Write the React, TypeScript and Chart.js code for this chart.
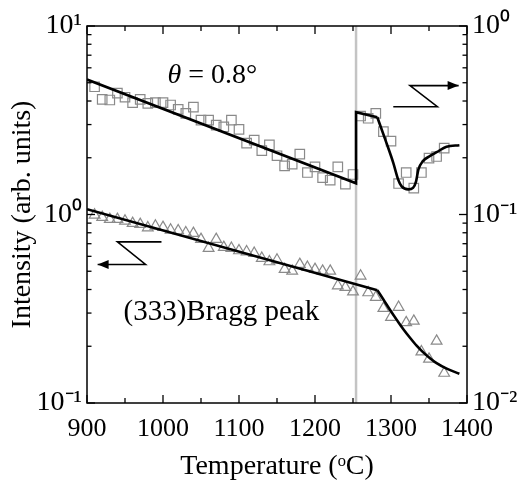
import React, { useEffect, useRef } from 'react';
import { Chart, registerables } from 'chart.js';

Chart.register(...registerables);

const FONT = "'Liberation Serif', 'Times New Roman', serif";

// Measurement temperatures (°C)
const temperatures = [
  910, 920, 930, 940, 950, 960, 970, 980, 990, 1000,
  1010, 1020, 1030, 1040, 1050, 1060, 1070, 1080, 1090, 1100,
  1110, 1120, 1130, 1140, 1150, 1160, 1170, 1180, 1190, 1200,
  1210, 1220, 1230, 1240, 1250, 1260, 1270, 1280, 1290, 1300,
  1310, 1320, 1330, 1340, 1350, 1360, 1370,
];

// θ = 0.8° intensity (squares, right axis)
const squareIntensity = [
  0.476, 0.408, 0.405, 0.440, 0.419, 0.392, 0.408, 0.389, 0.392, 0.392,
  0.381, 0.361, 0.344, 0.371, 0.317, 0.317, 0.298, 0.292, 0.317, 0.283,
  0.239, 0.248, 0.218, 0.234, 0.205, 0.181, 0.185, 0.209, 0.167, 0.179,
  0.157, 0.152, 0.179, 0.145, 0.163, 0.333, 0.324, 0.344, 0.275, 0.245,
  0.146, 0.167, 0.138, 0.167, 0.199, 0.203, 0.225,
];

// (333) Bragg peak intensity (triangles, left axis)
const triangleIntensity = [
  0.994, 0.966, 0.943, 0.943, 0.924, 0.898, 0.887, 0.851, 0.869, 0.855,
  0.828, 0.821, 0.801, 0.795, 0.738, 0.662, 0.738, 0.670, 0.662, 0.643,
  0.635, 0.623, 0.586, 0.562, 0.574, 0.512, 0.501, 0.544, 0.525, 0.512,
  0.501, 0.501, 0.419, 0.411, 0.389, 0.472, 0.385, 0.364, 0.318, 0.285,
  0.322, 0.267, 0.272, 0.187, 0.171, 0.213, 0.144,
];

// Fit curves
const squareFitLineT = [900, 1254, 1254, 1282];
const squareFitLineI = [0.52, 0.1465, 0.349, 0.328];
const squareFitCurveT = [1282, 1294, 1303, 1309.5, 1314, 1322.7, 1329, 1333, 1336, 1342, 1351, 1360, 1373, 1390];
const squareFitCurveI = [0.328, 0.24, 0.188, 0.153, 0.141, 0.136, 0.1385, 0.15, 0.173, 0.192, 0.204, 0.214, 0.229, 0.233];

const triangleFitLineT = [900, 1282];
const triangleFitLineI = [1.066, 0.397];
const triangleFitCurveT = [1282, 1290, 1298.6, 1307.4, 1316, 1325, 1333.7, 1342.4, 1351.3, 1360, 1373.3, 1390];
const triangleFitCurveI = [0.397, 0.354, 0.3126, 0.2769, 0.247, 0.2218, 0.2014, 0.1855, 0.1729, 0.1626, 0.1521, 0.143];

// Vertical marker line
const markerT = [1254, 1254];
const markerI = [0.1, 10];

// Axis ticks
const xTickValues = [900, 1000, 1100, 1200, 1300, 1400];
const xTickLabels = ['900', '1000', '1100', '1200', '1300', '1400'];
const xMinorTickValues = [950, 1050, 1150, 1250, 1350];
const yLeftTickValues = [0.1, 1, 10];
const yLeftTickLabels = ['10\u207B\u00B9', '10\u2070', '10\u00B9'];
const yRightTickValues = [0.01, 0.1, 1];
const yRightTickLabels = ['10\u207B\u00B2', '10\u207B\u00B9', '10\u2070'];
const minorMultipliers = [2, 3, 4, 5, 6, 7, 8, 9];

const xTitle = 'Temperature (\u1D52C)';
const yTitle = 'Intensity (arb. units)';

// Annotations (data coordinates on x / left y)
const thetaLabelPos = [1006, 5.0];
const braggLabelPos = [948, 0.275];
const braggLabel = '(333)Bragg peak';
const leftArrowT = [998, 940, 977, 914];
const leftArrowI = [0.716, 0.716, 0.543, 0.543];
const rightArrowT = [1303, 1361, 1325, 1389];
const rightArrowI = [3.73, 3.73, 4.83, 4.83];

const zip = (xs: number[], ys: number[]) => xs.map((x, i) => ({ x, y: ys[i] }));

function drawArrow(ctx: CanvasRenderingContext2D, pts: { x: number; y: number }[]) {
  ctx.save();
  ctx.strokeStyle = '#000';
  ctx.fillStyle = '#000';
  ctx.lineWidth = 1.6;
  ctx.beginPath();
  ctx.moveTo(pts[0].x, pts[0].y);
  for (let i = 1; i < pts.length; i++) ctx.lineTo(pts[i].x, pts[i].y);
  ctx.stroke();
  const a = pts[pts.length - 2];
  const b = pts[pts.length - 1];
  const ang = Math.atan2(b.y - a.y, b.x - a.x);
  const len = 11;
  const hw = 4.5;
  ctx.beginPath();
  ctx.moveTo(b.x, b.y);
  ctx.lineTo(b.x - len * Math.cos(ang) + hw * Math.sin(ang), b.y - len * Math.sin(ang) - hw * Math.cos(ang));
  ctx.lineTo(b.x - len * Math.cos(ang) - hw * Math.sin(ang), b.y - len * Math.sin(ang) + hw * Math.cos(ang));
  ctx.closePath();
  ctx.fill();
  ctx.restore();
}

const framePlugin = {
  id: 'frameAndAnnotations',
  afterDraw(chart: any) {
    const ctx: CanvasRenderingContext2D = chart.ctx;
    const { left, right, top, bottom } = chart.chartArea;
    const xs = chart.scales.x;
    const ys = chart.scales.y;
    const ys2 = chart.scales.y2;
    ctx.save();
    ctx.strokeStyle = '#000';
    ctx.lineWidth = 1.3;
    const seg = (x1: number, y1: number, x2: number, y2: number) => {
      ctx.beginPath();
      ctx.moveTo(x1, y1);
      ctx.lineTo(x2, y2);
      ctx.stroke();
    };
    xTickValues.forEach((v) => {
      const px = xs.getPixelForValue(v);
      seg(px, bottom, px, bottom - 8);
      seg(px, top, px, top + 8);
    });
    xMinorTickValues.forEach((v) => {
      const px = xs.getPixelForValue(v);
      seg(px, bottom, px, bottom - 5);
      seg(px, top, px, top + 5);
    });
    const logTicks = (scale: any, decades: number[], side: 'l' | 'r') => {
      decades.forEach((d, i) => {
        const py = scale.getPixelForValue(d);
        if (side === 'l') seg(left, py, left + 8, py);
        else seg(right, py, right - 8, py);
        if (i < decades.length - 1) {
          minorMultipliers.forEach((m) => {
            const pm = scale.getPixelForValue(d * m);
            if (side === 'l') seg(left, pm, left + 4.5, pm);
            else seg(right, pm, right - 4.5, pm);
          });
        }
      });
    };
    logTicks(ys, yLeftTickValues, 'l');
    logTicks(ys2, yRightTickValues, 'r');
    ctx.lineWidth = 1.5;
    ctx.strokeRect(left, top, right - left, bottom - top);

    // arrows
    drawArrow(ctx, leftArrowT.map((t, i) => ({ x: xs.getPixelForValue(t), y: ys.getPixelForValue(leftArrowI[i]) })));
    drawArrow(ctx, rightArrowT.map((t, i) => ({ x: xs.getPixelForValue(t), y: ys.getPixelForValue(rightArrowI[i]) })));

    // texts
    ctx.fillStyle = '#000';
    ctx.textBaseline = 'alphabetic';
    ctx.textAlign = 'left';
    const tx = xs.getPixelForValue(thetaLabelPos[0]);
    const ty = ys.getPixelForValue(thetaLabelPos[1]);
    ctx.font = `italic 28px ${FONT}`;
    ctx.fillText('\u03B8', tx, ty);
    const w = ctx.measureText('\u03B8').width;
    ctx.font = `28px ${FONT}`;
    ctx.fillText(' = 0.8\u00B0', tx + w, ty);
    ctx.font = `29px ${FONT}`;
    ctx.fillText(braggLabel, xs.getPixelForValue(braggLabelPos[0]), ys.getPixelForValue(braggLabelPos[1]));
    ctx.restore();
  },
};

export default function App() {
  const canvasRef = useRef<HTMLCanvasElement | null>(null);

  useEffect(() => {
    if (!canvasRef.current) return;
    Chart.defaults.font.family = FONT;
    const lineDs = (data: any[], axis: string, mono: boolean) => ({
      data,
      yAxisID: axis,
      showLine: true,
      borderColor: '#000',
      borderWidth: 2.6,
      pointRadius: 0,
      tension: mono ? 0.4 : 0,
      cubicInterpolationMode: mono ? 'monotone' : 'default',
      fill: false,
    });
    const chart = new Chart(canvasRef.current, {
      type: 'scatter',
      data: {
        datasets: [
          lineDs(zip(squareFitLineT, squareFitLineI), 'y2', false),
          lineDs(zip(squareFitCurveT, squareFitCurveI), 'y2', true),
          lineDs(zip(triangleFitLineT, triangleFitLineI), 'y', false),
          lineDs(zip(triangleFitCurveT, triangleFitCurveI), 'y', true),
          {
            data: zip(temperatures, squareIntensity),
            yAxisID: 'y2',
            showLine: false,
            pointStyle: 'rect',
            pointRadius: 6.7,
            borderColor: '#8a8a8a',
            borderWidth: 1.2,
            backgroundColor: 'rgba(0,0,0,0)',
          },
          {
            data: zip(temperatures, triangleIntensity),
            yAxisID: 'y',
            showLine: false,
            pointStyle: 'triangle',
            pointRadius: 6.2,
            borderColor: '#8a8a8a',
            borderWidth: 1.2,
            backgroundColor: 'rgba(0,0,0,0)',
          },
          {
            data: zip(markerT, markerI),
            yAxisID: 'y',
            showLine: true,
            borderColor: '#c4c4c4',
            borderWidth: 2.5,
            pointRadius: 0,
          },
        ],
      } as any,
      options: {
        animation: false,
        responsive: true,
        maintainAspectRatio: false,
        devicePixelRatio: 1,
        layout: { padding: { top: 26, left: 0, right: 0, bottom: 0 } },
        plugins: { legend: { display: false }, tooltip: { enabled: false } },
        scales: {
          x: {
            type: 'linear',
            position: 'bottom',
            min: 900,
            max: 1400,
            grid: { display: false, drawTicks: false },
            border: { display: false },
            afterBuildTicks: (s: any) => {
              s.ticks = xTickValues.map((v) => ({ value: v }));
            },
            ticks: {
              autoSkip: false,
              maxRotation: 0,
              minRotation: 0,
              padding: 11,
              color: '#000',
              font: { family: FONT, size: 26 },
              callback: (_v: any, i: number) => xTickLabels[i],
            },
            title: {
              display: true,
              text: xTitle,
              color: '#000',
              font: { family: FONT, size: 28 },
              padding: { top: 0, bottom: 4 },
            },
            afterFit: (s: any) => {
              s.height = 84;
            },
          },
          y: {
            type: 'logarithmic',
            position: 'left',
            min: 0.1,
            max: 10,
            grid: { display: false, drawTicks: false },
            border: { display: false },
            afterBuildTicks: (s: any) => {
              s.ticks = yLeftTickValues.map((v) => ({ value: v }));
            },
            ticks: {
              autoSkip: false,
              padding: 5,
              color: '#000',
              font: { family: FONT, size: 28 },
              callback: (_v: any, i: number) => yLeftTickLabels[i],
            },
            title: {
              display: true,
              text: yTitle,
              color: '#000',
              font: { family: FONT, size: 28 },
              padding: { top: 6, bottom: 0 },
            },
            afterFit: (s: any) => {
              s.width = 87;
            },
          },
          y2: {
            type: 'logarithmic',
            position: 'right',
            min: 0.01,
            max: 1,
            grid: { display: false, drawTicks: false },
            border: { display: false },
            afterBuildTicks: (s: any) => {
              s.ticks = yRightTickValues.map((v) => ({ value: v }));
            },
            ticks: {
              autoSkip: false,
              padding: 5,
              color: '#000',
              font: { family: FONT, size: 28 },
              callback: (_v: any, i: number) => yRightTickLabels[i],
            },
            afterFit: (s: any) => {
              s.width = 50;
            },
          },
        },
      } as any,
      plugins: [framePlugin],
    });
    return () => chart.destroy();
  }, []);

  return (
    <div style={{ position: 'absolute', left: 0, top: 0, width: 517, height: 487, background: '#fff' }}>
      <canvas ref={canvasRef} />
    </div>
  );
}
